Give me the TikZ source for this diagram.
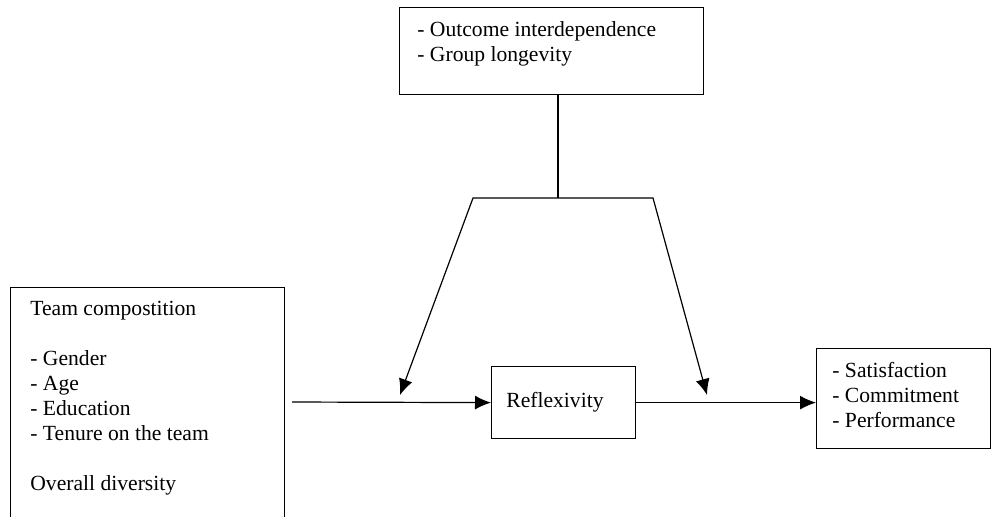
\documentclass[tikz,border=0pt]{standalone}
\usepackage{fontspec}
\setmainfont{Liberation Serif}
\usetikzlibrary{arrows.meta}

\begin{document}
\begin{tikzpicture}
[x=0.5pt,y=-0.5pt,
  boxDecorate/.style={draw,line width=0.6pt,inner sep=0pt,anchor=north west},%
  textDecorate/.style={anchor=base west,align=left,inner sep=0pt,
    font=\fontsize{10.8}{12.5}\selectfont},%
  lineDecorate/.style={-,line width=0.6pt},%
  arrowDecorate/.style={line width=0.6pt,-{Latex[length=8pt,width=7pt]}}]
\useasboundingbox (0,0) rectangle (991,516);
%% boxes
\foreach \nodename/\x/\y/\w/\h in {
  moderators/399/7/152/43.5,
  composition/10/287/137/115.5,
  reflexivity/491/366/72/36,
  outcomes/816/348/87/50}
{
  \node (\nodename) at (\x,\y) [boxDecorate,minimum width=\w pt,minimum height=\h pt] {};
}
%% texts (anchored at the baseline of their last line)
\node (moderatorsText) at (417,61) [textDecorate]
  {- Outcome interdependence\\- Group longevity};
\node (compositionText) at (30,490) [textDecorate]
  {Team compostition\\[12.5pt]- Gender\\- Age\\- Education\\- Tenure on the team\\[12.5pt]Overall diversity};
\node (reflexivityText) at (506,407) [textDecorate] {Reflexivity};
\node (outcomesText) at (832,427) [textDecorate]
  {- Satisfaction\\- Commitment\\- Performance};
%% connectors
\coordinate (start) at (292,402);
\coordinate (hub) at (558,198);
\coordinate (hubLeft) at (473,198);
\coordinate (hubRight) at (653,198);
\coordinate (tipLeft) at (400,395);
\coordinate (tipRight) at (707,395);
\draw[lineDecorate] (hub |- moderators.south) -- (hub);
\draw[arrowDecorate] (start) -- (reflexivity.west);
\draw[arrowDecorate] (reflexivity.east) -- (reflexivity.east -| outcomes.west);
\draw[arrowDecorate,{Latex[length=8pt,width=7pt]}-{Latex[length=8pt,width=7pt]}]
  (tipLeft) -- (hubLeft) -- (hubRight) -- (tipRight);
\end{tikzpicture}
\end{document}
